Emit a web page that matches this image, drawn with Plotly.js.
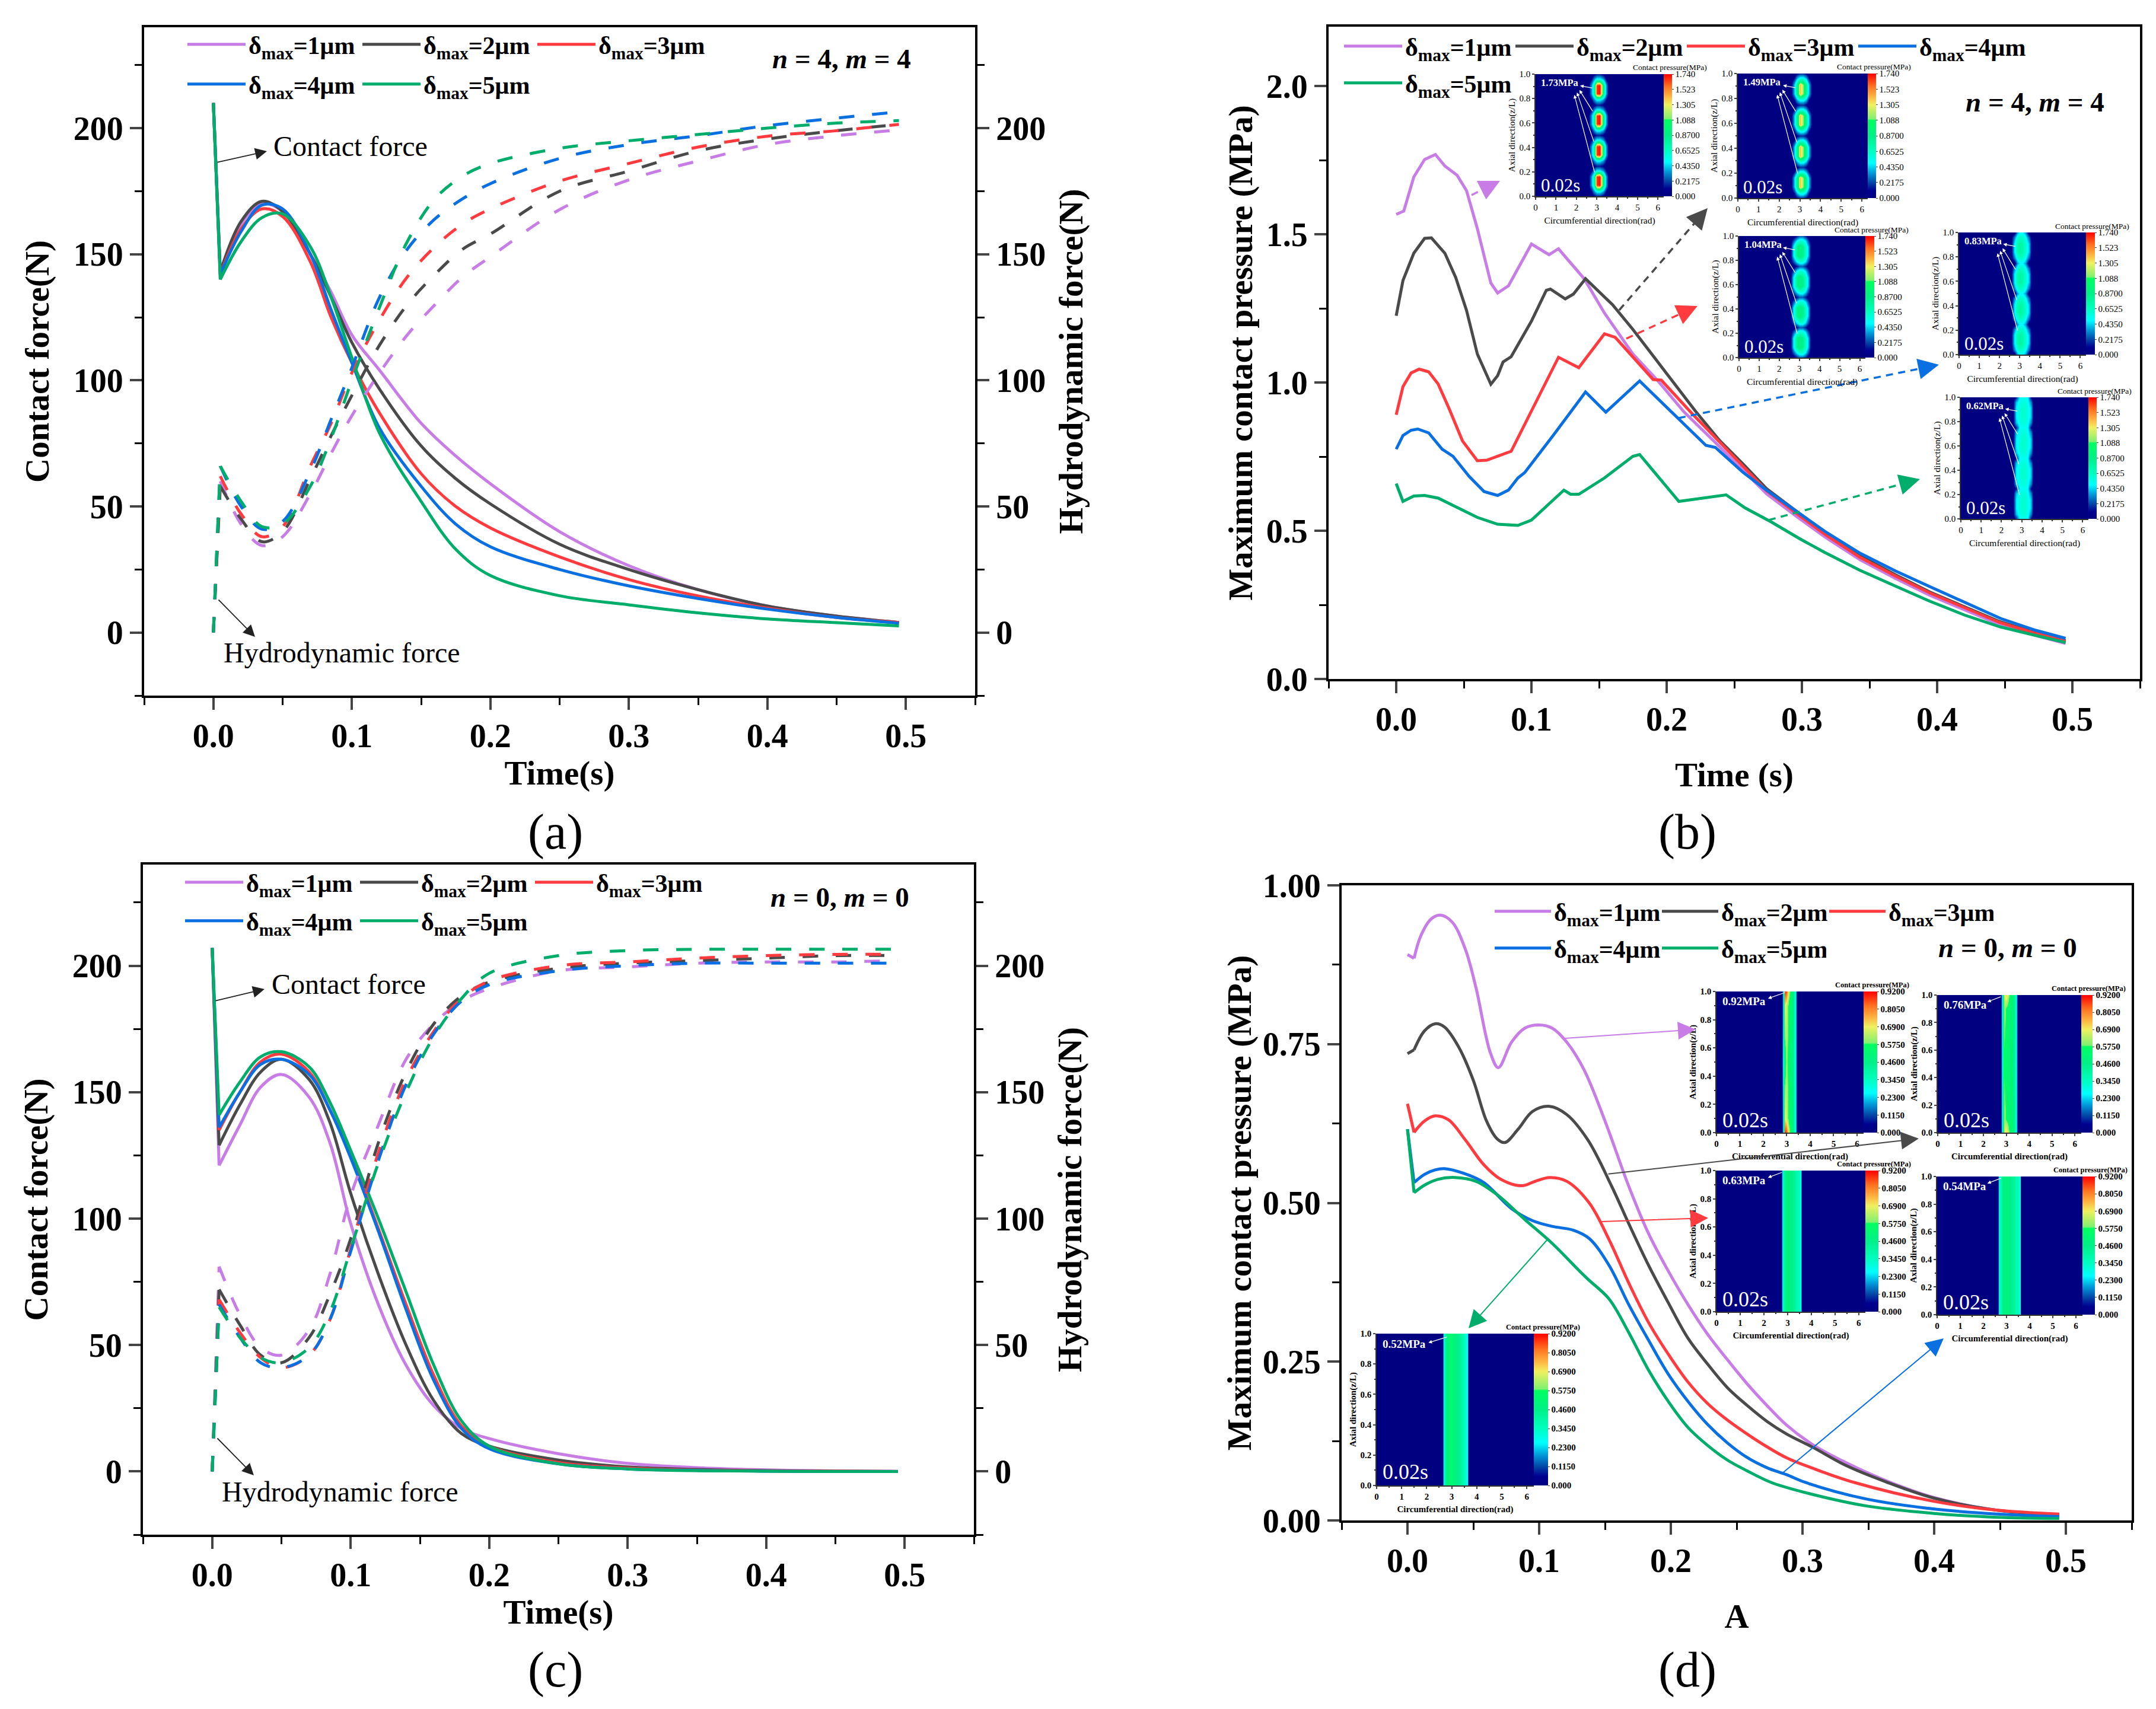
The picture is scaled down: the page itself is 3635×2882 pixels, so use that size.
<!DOCTYPE html>
<html>
<head>
<meta charset="utf-8">
<script src="https://cdn.plot.ly/plotly-3.0.1.min.js"></script>
<style>body { margin: 0; background: #fff; }</style>
</head>
<body>
<div id="chart"></div>
<script>
const W = 3635;
const H = 2882;
const SERIF = "Liberation Serif";

const seriesNames = ["δ<sub>max</sub>=1μm", "δ<sub>max</sub>=2μm", "δ<sub>max</sub>=3μm", "δ<sub>max</sub>=4μm", "δ<sub>max</sub>=5μm"];
const seriesColors = ["#C77CE6", "#4A4A4A", "#FF3B3F", "#0A6FE0", "#00AD6B"];

// (a) n = 4, m = 4
const aContactTime = [0, 0.005, 0.02, 0.035, 0.05, 0.07, 0.085, 0.1, 0.12, 0.15, 0.175, 0.2, 0.25, 0.3, 0.35, 0.4, 0.45, 0.495];
const aContact1 = [210, 140, 162, 170, 167, 150, 135, 118, 104, 83, 70, 59, 40, 26.5, 17, 10.5, 6.5, 4];
const aContact2 = [210, 143, 163, 171, 167, 150, 133, 115, 96.5, 74, 61, 51, 35, 25, 17, 10.5, 6.5, 4];
const aContact3 = [210, 142, 160, 168, 165, 147, 125, 107, 87, 63, 50, 41.5, 30, 21, 14.5, 9.7, 6, 4];
const aContact4 = [210, 142, 159, 169.5, 168, 150, 128, 107, 81, 58, 43, 34, 25, 18.5, 13.5, 9.3, 6, 3.7];
const aContact5 = [210, 140, 155, 164.5, 166, 153, 133, 109, 79, 52, 33, 22.6, 14.6, 11, 7.8, 5.4, 3.9, 2.6];

const hydroTime = [0, 0.005, 0.02, 0.035, 0.05, 0.07, 0.085, 0.1, 0.12, 0.14, 0.16, 0.18, 0.2, 0.25, 0.3, 0.35, 0.4, 0.45, 0.495];
const aHydro1 = [0, 60, 43, 34.5, 38, 55, 71, 86, 103, 118, 130, 141, 149, 167.7, 179.5, 187, 193.5, 197, 199.3];
const aHydro2 = [0, 58, 45, 36, 40, 61, 78, 94, 114, 130, 142, 152, 158, 175, 183, 191, 195.7, 199, 201.5];
const aHydro3 = [0, 62, 47, 38, 42, 66, 83, 103, 124, 141, 153, 162, 168, 179, 186, 192.5, 196.8, 199, 201.5];
const aHydro4 = [0, 66, 50, 41, 44, 64, 84.5, 105, 133, 152, 164, 172, 178, 188, 193.5, 197, 201, 204, 206.5];
const aHydro5 = [0, 66, 52, 42, 43, 58, 77, 100, 129, 155, 172, 181, 186, 192, 195, 197.5, 200, 202, 203];

// (c) n = 0, m = 0, same time grid for both families
const cContact1 = [207, 121, 137, 152, 157, 148, 130, 98, 66, 42, 26, 17, 13, 7, 3.2, 1.5, 0.6, 0.2, 0.1];
const cContact2 = [207, 129, 145, 158, 163, 155, 138, 110, 78, 50, 28, 15, 10, 4.5, 1.8, 0.8, 0.3, 0.1, 0];
const cContact3 = [207, 135, 150, 162, 165, 158, 143, 125, 96, 66, 38, 18, 10, 3.5, 1.3, 0.5, 0.2, 0.1, 0];
const cContact4 = [207, 136, 150, 161, 163, 157, 143, 124, 95, 64, 36, 17, 9, 3, 1, 0.4, 0.1, 0, 0];
const cContact5 = [207, 141, 154, 164, 166, 160, 146, 127, 100, 71, 42, 20, 10, 3, 1, 0.3, 0.1, 0, 0];
const cHydro1 = [0, 81, 62, 49, 46, 56, 78, 109, 137, 163, 177, 186, 191, 198, 199.5, 201, 201.5, 201.5, 202];
const cHydro2 = [0, 72, 58, 46, 43, 53, 70, 92, 130, 158, 177, 188, 193.5, 199, 201, 202, 203, 204, 204];
const cHydro3 = [0, 68, 55, 45, 41, 46, 60, 88, 126, 155, 174, 187, 194, 200, 201.5, 203, 204, 204.5, 204.5];
const cHydro4 = [0, 66, 53, 43, 41, 46, 60, 87, 123, 153, 173, 186, 192.5, 198, 200, 201, 201, 201, 201];
const cHydro5 = [0, 65, 53, 45, 43, 49, 63, 88, 122, 150, 172, 187, 197, 204, 206, 206.5, 206.5, 206.5, 206.5];

// (b) maximum contact pressure, n = 4, m = 4
const bTime1 = [0, 0.0056, 0.013, 0.021, 0.029, 0.036, 0.045, 0.052, 0.06, 0.07, 0.075, 0.083, 0.1, 0.113, 0.12, 0.139, 0.154, 0.175, 0.193, 0.213, 0.239, 0.2565, 0.2738, 0.2964, 0.3173, 0.3431, 0.3693, 0.3947, 0.4206, 0.4465, 0.4727, 0.495];
const bPressure1 = [1.567, 1.578, 1.693, 1.752, 1.769, 1.73, 1.699, 1.647, 1.519, 1.335, 1.302, 1.326, 1.467, 1.431, 1.451, 1.35, 1.234, 1.096, 1.008, 0.9, 0.784, 0.705, 0.625, 0.547, 0.478, 0.402, 0.339, 0.282, 0.232, 0.183, 0.147, 0.12];
const bTime2 = [0, 0.005, 0.013, 0.021, 0.026, 0.036, 0.044, 0.052, 0.06, 0.07, 0.075, 0.079, 0.085, 0.1, 0.111, 0.114, 0.125, 0.131, 0.14, 0.16, 0.175, 0.198, 0.221, 0.239, 0.2565, 0.2738, 0.2964, 0.3173, 0.3431, 0.3693, 0.3947, 0.4206, 0.4465, 0.4727, 0.495];
const bPressure2 = [1.225, 1.344, 1.436, 1.486, 1.488, 1.436, 1.354, 1.243, 1.096, 0.994, 1.023, 1.069, 1.087, 1.207, 1.311, 1.315, 1.282, 1.298, 1.35, 1.262, 1.179, 1.041, 0.905, 0.805, 0.725, 0.642, 0.563, 0.492, 0.415, 0.351, 0.293, 0.243, 0.193, 0.156, 0.129];
const bTime3 = [0, 0.005, 0.011, 0.017, 0.024, 0.031, 0.039, 0.049, 0.06, 0.067, 0.085, 0.103, 0.12, 0.135, 0.154, 0.162, 0.19, 0.196, 0.219, 0.239, 0.2565, 0.2738, 0.2964, 0.3173, 0.3431, 0.3693, 0.3947, 0.4206, 0.4465, 0.4727, 0.495];
const bPressure3 = [0.891, 0.986, 1.032, 1.045, 1.036, 0.995, 0.913, 0.803, 0.736, 0.738, 0.768, 0.931, 1.085, 1.05, 1.164, 1.152, 1.01, 1.008, 0.894, 0.8, 0.717, 0.635, 0.557, 0.487, 0.41, 0.347, 0.29, 0.24, 0.19, 0.154, 0.127];
const bTime4 = [0, 0.005, 0.011, 0.016, 0.024, 0.034, 0.042, 0.054, 0.065, 0.075, 0.083, 0.09, 0.095, 0.116, 0.14, 0.155, 0.18, 0.208, 0.229, 0.236, 0.2565, 0.2738, 0.2964, 0.3173, 0.3431, 0.3693, 0.3953, 0.4212, 0.447, 0.473, 0.495];
const bPressure4 = [0.775, 0.821, 0.839, 0.843, 0.83, 0.775, 0.751, 0.683, 0.632, 0.619, 0.637, 0.678, 0.696, 0.821, 0.968, 0.9, 1.005, 0.88, 0.788, 0.781, 0.697, 0.637, 0.564, 0.497, 0.424, 0.364, 0.31, 0.257, 0.204, 0.164, 0.137];
const bTime5 = [0, 0.005, 0.013, 0.021, 0.031, 0.044, 0.06, 0.075, 0.09, 0.1, 0.124, 0.129, 0.135, 0.154, 0.175, 0.18, 0.209, 0.244, 0.258, 0.2772, 0.298, 0.3168, 0.3427, 0.3688, 0.3947, 0.4206, 0.4465, 0.4727, 0.495];
const bPressure5 = [0.659, 0.599, 0.617, 0.619, 0.61, 0.582, 0.545, 0.522, 0.518, 0.536, 0.637, 0.623, 0.623, 0.678, 0.751, 0.757, 0.599, 0.621, 0.577, 0.53, 0.474, 0.427, 0.367, 0.314, 0.262, 0.215, 0.176, 0.147, 0.123];

// (d) maximum contact pressure, n = 0, m = 0
const dTime1 = [0, 0.005, 0.01, 0.018, 0.025, 0.034, 0.044, 0.052, 0.063, 0.069, 0.079, 0.089, 0.1, 0.11, 0.121, 0.134, 0.15, 0.168, 0.183, 0.198, 0.213, 0.228, 0.243, 0.258, 0.273, 0.288, 0.308, 0.333, 0.363, 0.4, 0.448, 0.495];
const dPressure1 = [0.891, 0.885, 0.92, 0.947, 0.953, 0.942, 0.899, 0.839, 0.736, 0.713, 0.753, 0.775, 0.78, 0.775, 0.753, 0.71, 0.629, 0.5265, 0.452, 0.393, 0.34, 0.293, 0.253, 0.215, 0.181, 0.15, 0.119, 0.091, 0.063, 0.036, 0.016, 0.009];
const dTime2 = [0, 0.005, 0.013, 0.021, 0.028, 0.039, 0.05, 0.06, 0.068, 0.074, 0.084, 0.095, 0.108, 0.121, 0.137, 0.155, 0.168, 0.183, 0.198, 0.213, 0.228, 0.243, 0.258, 0.273, 0.288, 0.308, 0.333, 0.363, 0.4, 0.448, 0.495];
const dPressure2 = [0.735, 0.741, 0.771, 0.782, 0.777, 0.745, 0.693, 0.629, 0.601, 0.595, 0.616, 0.644, 0.652, 0.639, 0.599, 0.5265, 0.4675, 0.402, 0.343, 0.287, 0.246, 0.209, 0.181, 0.156, 0.136, 0.115, 0.0865, 0.061, 0.035, 0.016, 0.009];
const dTime3 = [0, 0.005, 0.013, 0.021, 0.031, 0.044, 0.058, 0.071, 0.087, 0.097, 0.108, 0.121, 0.138, 0.153, 0.168, 0.183, 0.198, 0.213, 0.228, 0.243, 0.258, 0.273, 0.288, 0.308, 0.339, 0.4, 0.448, 0.495];
const dPressure3 = [0.656, 0.611, 0.629, 0.637, 0.631, 0.599, 0.56, 0.537, 0.527, 0.534, 0.54, 0.534, 0.5, 0.4425, 0.374, 0.312, 0.262, 0.218, 0.184, 0.158, 0.136, 0.116, 0.0985, 0.082, 0.06, 0.03, 0.016, 0.01];
const dTime4 = [0, 0.005, 0.013, 0.021, 0.028, 0.042, 0.058, 0.079, 0.095, 0.11, 0.126, 0.138, 0.153, 0.168, 0.183, 0.198, 0.213, 0.228, 0.243, 0.258, 0.273, 0.288, 0.302, 0.348, 0.4, 0.448, 0.495];
const dPressure4 = [0.616, 0.532, 0.545, 0.552, 0.554, 0.547, 0.532, 0.491, 0.472, 0.463, 0.457, 0.444, 0.402, 0.34, 0.284, 0.2305, 0.1875, 0.151, 0.122, 0.099, 0.083, 0.072, 0.06, 0.034, 0.018, 0.01, 0.006];
const dTime5 = [0, 0.005, 0.013, 0.023, 0.036, 0.052, 0.068, 0.089, 0.11, 0.131, 0.138, 0.153, 0.168, 0.183, 0.198, 0.213, 0.228, 0.243, 0.258, 0.276, 0.3, 0.348, 0.4, 0.448, 0.495];
const dPressure5 = [0.616, 0.516, 0.528, 0.537, 0.54, 0.534, 0.513, 0.474, 0.436, 0.392, 0.378, 0.349, 0.296, 0.237, 0.1875, 0.1465, 0.118, 0.095, 0.078, 0.06, 0.045, 0.023, 0.011, 0.005, 0.003];

// pressure maps, MPa. Lobes of (b) repeat four times along the axis
const blobCirc = [0, 2.55, 2.72, 2.88, 3.0, 3.15, 3.3, 3.45, 3.6, 6.28];
const blobAxial = [0, 0.04, 0.09, 0.16, 0.21, 0.25, 0.29, 0.34, 0.41, 0.46, 0.5, 0.54, 0.59, 0.66, 0.71, 0.75, 0.79, 0.84, 0.91, 0.96, 1];
const blobTicks = ["0.000", "0.2175", "0.4350", "0.6525", "0.8700", "1.088", "1.305", "1.523", "1.740"];
const lobe173 = [
  [0, 0, 0, 0.08, 0.15, 0.15, 0.08, 0, 0, 0],
  [0, 0, 0.1, 0.35, 0.5, 0.5, 0.35, 0.1, 0, 0],
  [0, 0, 0.35, 0.75, 1.65, 1.72, 0.9, 0.35, 0, 0],
];
const lobe149 = [
  [0, 0, 0, 0.1, 0.18, 0.18, 0.1, 0, 0, 0],
  [0, 0, 0.12, 0.4, 0.55, 0.55, 0.4, 0.12, 0, 0],
  [0, 0, 0.4, 0.85, 1.4, 1.15, 0.8, 0.38, 0, 0],
];
const lobe104 = [
  [0, 0, 0.03, 0.15, 0.25, 0.25, 0.15, 0.03, 0, 0],
  [0, 0, 0.25, 0.5, 0.6, 0.6, 0.45, 0.2, 0, 0],
  [0, 0, 0.5, 0.85, 0.95, 0.85, 0.65, 0.38, 0, 0],
];
const lobe083 = [
  [0, 0, 0, 0.35, 0.48, 0.48, 0.35, 0, 0, 0],
  [0, 0, 0.3, 0.55, 0.65, 0.62, 0.5, 0.25, 0, 0],
  [0, 0, 0.45, 0.7, 0.78, 0.72, 0.6, 0.4, 0, 0],
];
const lobe062 = [
  [0, 0, 0.15, 0.48, 0.52, 0.52, 0.46, 0.12, 0, 0],
  [0, 0, 0.4, 0.54, 0.58, 0.58, 0.5, 0.32, 0, 0],
  [0, 0, 0.46, 0.56, 0.62, 0.6, 0.54, 0.42, 0, 0],
];

const stripeAxial = [0, 0.1, 0.5, 0.9, 1];
const stripeTicks = ["0.000", "0.1150", "0.2300", "0.3450", "0.4600", "0.5750", "0.6900", "0.8050", "0.9200"];
const stripe092Circ = [0, 2.78, 2.85, 2.92, 3.0, 3.1, 3.25, 3.38, 3.45, 6.28];
const stripe092 = [
  [0, 0, 0.3, 0.88, 0.86, 0.62, 0.5, 0.3, 0, 0],
  [0, 0, 0.3, 0.7, 0.65, 0.55, 0.5, 0.3, 0, 0],
  [0, 0, 0.35, 0.5, 0.62, 0.52, 0.48, 0.3, 0, 0],
  [0, 0, 0.3, 0.7, 0.65, 0.55, 0.5, 0.3, 0, 0],
  [0, 0, 0.3, 0.88, 0.86, 0.62, 0.5, 0.3, 0, 0],
];
const stripe076Circ = [0, 2.75, 2.82, 2.9, 3.0, 3.15, 3.3, 3.42, 3.5, 6.28];
const stripe076 = [
  [0, 0, 0.3, 0.68, 0.72, 0.56, 0.5, 0.32, 0, 0],
  [0, 0, 0.3, 0.62, 0.56, 0.52, 0.5, 0.32, 0, 0],
  [0, 0, 0.3, 0.56, 0.54, 0.52, 0.48, 0.32, 0, 0],
  [0, 0, 0.3, 0.62, 0.56, 0.52, 0.5, 0.32, 0, 0],
  [0, 0, 0.3, 0.68, 0.72, 0.56, 0.5, 0.32, 0, 0],
];
const stripe063Circ = [0, 2.72, 2.8, 2.95, 3.1, 3.3, 3.5, 3.56, 3.6, 6.28];
const stripe063Row = [0, 0, 0.34, 0.5, 0.48, 0.42, 0.34, 0.28, 0, 0];
const stripe054Circ = [0, 2.62, 2.7, 2.9, 3.1, 3.3, 3.5, 3.58, 3.62, 6.28];
const stripe054Row = [0, 0, 0.34, 0.5, 0.47, 0.42, 0.35, 0.28, 0, 0];
const stripe052Circ = [0, 2.62, 2.7, 2.9, 3.1, 3.3, 3.5, 3.62, 3.68, 6.28];
const stripe052Row = [0, 0, 0.38, 0.54, 0.5, 0.44, 0.35, 0.26, 0, 0];

const pressureScale = [
  [0, "#000080"], [0.06, "#000090"], [0.125, "#0048A8"], [0.2, "#0098D8"], [0.28, "#00FFFF"],
  [0.375, "#00FFC0"], [0.5, "#00F088"], [0.625, "#00FF60"], [0.635, "#80F070"], [0.75, "#F0F060"],
  [0.82, "#FFB040"], [0.9, "#FF7020"], [1, "#FF0000"],
];

function lobes(rows) {
  const [valley, shoulder, core] = rows;
  const one = [valley, shoulder, core, core, shoulder];
  return [...one, ...one, ...one, ...one, valley];
}

const domX = (l, r) => [l / W, r / W];
const domY = (t, b) => [1 - b / H, 1 - t / H];
const font = (size, weight = 400, color = "#000") => ({ family: SERIF, size, weight, color });

const traces = [];
const annotations = [];
const shapes = [];
const layout = {
  width: W,
  height: H,
  margin: { l: 0, r: 0, t: 0, b: 0, pad: 0 },
  paper_bgcolor: "#fff",
  plot_bgcolor: "#fff",
  font: { family: SERIF, color: "#000" },
  annotations,
  shapes,
};

function mainXAxis(dom, anchor, title, standoff) {
  return {
    domain: dom,
    anchor,
    range: [-0.05, 0.55],
    dtick: 0.1,
    tick0: 0,
    tickformat: ".1f",
    ticks: "outside",
    ticklen: 20,
    tickwidth: 4,
    linewidth: 4,
    linecolor: "#000",
    showline: true,
    mirror: true,
    showgrid: false,
    zeroline: false,
    tickfont: font(56, 700),
    ticklabelstandoff: -4,
    minor: { dtick: 0.05, ticks: "outside", ticklen: 12, tickwidth: 3, tickcolor: "#000", showgrid: false },
    title: { text: title, font: font(57, 700), standoff },
  };
}

function mainYAxis(dom, anchor, range, dtick, minorDtick, format, title, standoff, extra) {
  return {
    domain: dom,
    anchor,
    range,
    dtick,
    tick0: 0,
    tickformat: format,
    ticks: "outside",
    ticklen: 20,
    tickwidth: 4,
    linewidth: 4,
    linecolor: "#000",
    showline: true,
    showgrid: false,
    zeroline: false,
    tickfont: font(56, 700),
    minor: { dtick: minorDtick, ticks: "outside", ticklen: 12, tickwidth: 3, tickcolor: "#000", showgrid: false },
    title: { text: title, font: font(57, 700), standoff },
    ...extra,
  };
}

function addLine(x, y, i, xa, ya, opts) {
  traces.push({
    type: "scatter",
    mode: "lines",
    x,
    y,
    xaxis: xa,
    yaxis: ya,
    name: seriesNames[i],
    hoverinfo: "skip",
    line: { color: seriesColors[i], width: 5, dash: opts.dash || "solid", shape: opts.shape || "spline", smoothing: 1 },
    showlegend: !!opts.legend,
    legend: opts.legend,
  });
}

// the start of each run is a sharp corner, so the first step stays straight
function addCurve(x, y, i, xa, ya, opts) {
  addLine(x.slice(0, 2), y.slice(0, 2), i, xa, ya, { dash: opts.dash, shape: "linear" });
  addLine(x.slice(1), y.slice(1), i, xa, ya, opts);
}

function addLegend(id, lineStart, rowY, entrywidth, itemwidth, size) {
  layout[id] = {
    orientation: "h",
    x: (lineStart - 5) / W,
    y: 1 - rowY / H,
    xanchor: "left",
    yanchor: "middle",
    bgcolor: "rgba(0,0,0,0)",
    borderwidth: 0,
    itemwidth,
    entrywidth,
    entrywidthmode: "pixels",
    font: font(size, 700),
    itemclick: false,
    itemdoubleclick: false,
  };
}

function note(text, x, y, size, weight, anchor = "left") {
  annotations.push({
    text, xref: "paper", yref: "paper", x: x / W, y: 1 - y / H,
    xanchor: anchor, yanchor: "middle", showarrow: false, font: font(size, weight),
  });
}

function arrow(tail, head, color, width, size) {
  annotations.push({
    text: "", xref: "paper", yref: "paper", x: head[0] / W, y: 1 - head[1] / H,
    ax: tail[0] - head[0], ay: tail[1] - head[1], axref: "pixel", ayref: "pixel",
    showarrow: true, arrowhead: 2, arrowcolor: color, arrowwidth: width, arrowsize: size,
  });
}

function dashedArrow(tail, head, color) {
  const dx = tail[0] - head[0];
  const dy = tail[1] - head[1];
  const len = Math.hypot(dx, dy);
  shapes.push({
    type: "line", xref: "paper", yref: "paper", layer: "above",
    x0: tail[0] / W, y0: 1 - tail[1] / H, x1: (head[0] + dx * 20 / len) / W, y1: 1 - (head[1] + dy * 20 / len) / H,
    line: { color, width: 3.5, dash: "12px,9px" },
  });
  arrow([head[0] + dx * 24 / len, head[1] + dy * 24 / len], head, color, 3.5, 2);
}

// (a) and (c)
layout.xaxis = mainXAxis(domX(243, 1644), "y", "Time(s)", 12);
layout.yaxis = mainYAxis(domY(46, 1173), "x", [-25, 240], 50, 25, "d", "Contact force(N)", 24);
layout.yaxis2 = mainYAxis(domY(46, 1173), "x", [-25, 240], 50, 25, "d", "Hydrodynamic force(N)", 24, { overlaying: "y", side: "right" });
layout.xaxis2 = mainXAxis(domX(241, 1642), "y3", "Time(s)", 12);
layout.yaxis3 = mainYAxis(domY(1458, 2588), "x2", [-25, 240], 50, 25, "d", "Contact force(N)", 24);
layout.yaxis4 = mainYAxis(domY(1458, 2588), "x2", [-25, 240], 50, 25, "d", "Hydrodynamic force(N)", 24, { overlaying: "y3", side: "right" });

const HYDRO_DASH = "26px,30px";

[aContact1, aContact2, aContact3, aContact4, aContact5].forEach((y, i) =>
  addCurve(aContactTime, y, i, "x", "y", { legend: i < 3 ? "legend" : "legend2" }));
[aHydro1, aHydro2, aHydro3, aHydro4, aHydro5].forEach((y, i) =>
  addCurve(hydroTime, y, i, "x", "y2", { dash: HYDRO_DASH }));
[cContact1, cContact2, cContact3, cContact4, cContact5].forEach((y, i) =>
  addCurve(hydroTime, y, i, "x2", "y3", { legend: i < 3 ? "legend5" : "legend6" }));
[cHydro1, cHydro2, cHydro3, cHydro4, cHydro5].forEach((y, i) =>
  addCurve(hydroTime, y, i, "x2", "y4", { dash: HYDRO_DASH }));

// (b) and (d)
layout.xaxis3 = mainXAxis(domX(2240, 3608), "y5", "Time (s)", 44);
layout.yaxis5 = mainYAxis(domY(45, 1145), "x3", [0, 2.2], 0.5, 0.25, ".1f", "Maximum contact pressure (MPa)", 6, { mirror: true });
layout.xaxis4 = mainXAxis(domX(2262, 3594), "y6", "A", 44);
layout.yaxis6 = mainYAxis(domY(1493, 2564), "x4", [0, 1], 0.25, 0.125, ".2f", "Maximum contact pressure (MPa)", 2, { mirror: true });

[[bTime1, bPressure1], [bTime2, bPressure2], [bTime3, bPressure3], [bTime4, bPressure4], [bTime5, bPressure5]].forEach(([x, y], i) =>
  addLine(x, y, i, "x3", "y5", { shape: "linear", legend: i < 4 ? "legend3" : "legend4" }));
[[dTime1, dPressure1], [dTime2, dPressure2], [dTime3, dPressure3], [dTime4, dPressure4], [dTime5, dPressure5]].forEach(([x, y], i) =>
  addCurve(x, y, i, "x4", "y6", { legend: i < 3 ? "legend7" : "legend8" }));

addLegend("legend", 316, 75, 182, 98, 42);
addLegend("legend2", 316, 142, 182, 98, 42);
addLegend("legend5", 312, 1488, 182, 98, 42);
addLegend("legend6", 312, 1553, 182, 98, 42);
addLegend("legend3", 2266, 78, 176, 98, 42);
addLegend("legend4", 2266, 140, 176, 98, 42);
addLegend("legend7", 2520, 1537, 172, 95, 42);
addLegend("legend8", 2520, 1599, 172, 95, 42);

// pressure map insets
const blobArrows = [[2.82, 0.885, 2.18, 0.905], [2.82, 0.69, 2.15, 0.87], [2.87, 0.44, 2.03, 0.85], [2.9, 0.19, 1.9, 0.83]];
const insetList = [
  { box: [2589, 2805, 125, 331], cb: 2819, x: blobCirc, y: blobAxial, z: lobes(lobe173), zmax: 1.74, ticks: blobTicks, peak: "1.73MPa", arrows: blobArrows, bold: false },
  { box: [2930, 3149, 124, 334], cb: 3163, x: blobCirc, y: blobAxial, z: lobes(lobe149), zmax: 1.74, ticks: blobTicks, peak: "1.49MPa", arrows: blobArrows, bold: false },
  { box: [2932, 3145, 398, 603], cb: 3160, x: blobCirc, y: blobAxial, z: lobes(lobe104), zmax: 1.74, ticks: blobTicks, peak: "1.04MPa", arrows: blobArrows, bold: false },
  { box: [3303, 3517, 392, 598], cb: 3532, x: blobCirc, y: blobAxial, z: lobes(lobe083), zmax: 1.74, ticks: blobTicks, peak: "0.83MPa", arrows: blobArrows, bold: false },
  { box: [3306, 3521, 670, 875], cb: 3535, x: blobCirc, y: blobAxial, z: lobes(lobe062), zmax: 1.74, ticks: blobTicks, peak: "0.62MPa", arrows: blobArrows, bold: false },
  { box: [2894, 3142, 1672, 1910], cb: 3165, x: stripe092Circ, y: stripeAxial, z: stripe092, zmax: 0.92, ticks: stripeTicks, peak: "0.92MPa", arrows: [[2.96, 0.995, 2.2, 0.95]], bold: true },
  { box: [3267, 3509, 1678, 1910], cb: 3528, x: stripe076Circ, y: stripeAxial, z: stripe076, zmax: 0.92, ticks: stripeTicks, peak: "0.76MPa", arrows: [[2.8, 0.99, 2.17, 0.95]], bold: true },
  { box: [2894, 3145, 1974, 2212], cb: 3167, x: stripe063Circ, y: [0, 1], z: [stripe063Row, stripe063Row], zmax: 0.92, ticks: stripeTicks, peak: "0.63MPa", arrows: [[2.8, 0.99, 2.17, 0.95]], bold: true },
  { box: [3266, 3511, 1984, 2217], cb: 3532, x: stripe054Circ, y: [0, 1], z: [stripe054Row, stripe054Row], zmax: 0.92, ticks: stripeTicks, peak: "0.54MPa", arrows: [[2.8, 0.99, 2.17, 0.95]], bold: true },
  { box: [2321, 2586, 2249, 2505], cb: 2610, x: stripe052Circ, y: [0, 1], z: [stripe052Row, stripe052Row], zmax: 0.92, ticks: stripeTicks, peak: "0.52MPa", arrows: [[2.85, 0.98, 2.07, 0.94]], bold: true },
];

insetList.forEach((inset, k) => {
  const [l, r, t, b] = inset.box;
  const xa = `x${k + 5}`;
  const ya = `y${k + 7}`;
  const weight = inset.bold ? 700 : 400;
  const axisBase = {
    ticks: "outside", ticklen: 4, tickwidth: 1.5, linewidth: 1.5, linecolor: "#333", showline: true,
    showgrid: false, zeroline: false, tickfont: font(15, weight),
  };
  layout[`xaxis${k + 5}`] = {
    ...axisBase, domain: domX(l, r), anchor: ya, range: [0, 6.28], dtick: 1, tick0: 0,
    minor: { dtick: 0.5, ticks: "outside", ticklen: 2, tickcolor: "#333" },
    title: { text: "Circumferential direction(rad)", font: font(inset.bold ? 15 : 15.5, weight), standoff: 9 },
  };
  layout[`yaxis${k + 7}`] = {
    ...axisBase, domain: domY(t, b), anchor: xa, range: [0, 1], dtick: 0.2, tick0: 0, tickformat: ".1f",
    minor: { dtick: 0.1, ticks: "outside", ticklen: 2, tickcolor: "#333" },
    title: { text: "Axial direction(z/L)", font: font(inset.bold ? 15 : 15.5, weight), standoff: 3 },
  };
  traces.push({
    type: "heatmap",
    x: inset.x,
    y: inset.y,
    z: inset.z,
    xaxis: xa,
    yaxis: ya,
    zmin: 0,
    zmax: inset.zmax,
    zsmooth: "best",
    colorscale: pressureScale,
    hoverinfo: "skip",
    colorbar: {
      x: r / W, xanchor: "left", xpad: 0, y: 1 - b / H, yanchor: "bottom", ypad: 0,
      len: b - t, lenmode: "pixels", thickness: inset.cb - r, thicknessmode: "pixels",
      tickvals: inset.ticks.map((_, i) => inset.zmax * i / 8),
      ticktext: inset.ticks,
      ticks: "outside", ticklen: 3, tickwidth: 1, outlinewidth: 0,
      tickfont: font(15, weight),
    },
  });
  const sizeK = inset.bold ? 1 : 0.87;
  annotations.push({
    text: inset.peak, xref: xa, yref: ya, x: 0.2, y: 0.93, xanchor: "left", yanchor: "middle",
    showarrow: false, font: font(19 * sizeK, 700, "#fff"),
  });
  annotations.push({
    text: "0.02s", xref: xa, yref: ya, x: 0.2, y: 0.09, xanchor: "left", yanchor: "middle",
    showarrow: false, font: font(inset.bold ? 36 : 31, 400, "#fff"),
  });
  inset.arrows.forEach(([x0, y0, x1, y1]) => {
    annotations.push({
      text: "", xref: xa, yref: ya, axref: xa, ayref: ya, x: x1, y: y1, ax: x0, ay: y0,
      showarrow: true, arrowhead: 2, arrowcolor: "#fff", arrowwidth: 1.2, arrowsize: 1,
    });
  });
  note("Contact pressure(MPa)", (r + inset.cb) / 2 + 3, t - 11, inset.bold ? 12.5 : 13.5, weight, "center");
});

// callouts and captions
note("Contact force", 459, 246, 48, 400);
note("Hydrodynamic force", 375, 1100, 48, 400);
note("Contact force", 456, 1659, 48, 400);
note("Hydrodynamic force", 372, 2515, 48, 400);
arrow([365, 274], [450, 255], "#222", 1.8, 2.2);
arrow([367, 1010], [430, 1074], "#222", 1.8, 2.2);
arrow([362, 1688], [446, 1668], "#222", 1.8, 2.2);
arrow([365, 2424], [428, 2488], "#222", 1.8, 2.2);

note("<i>n</i> = 4, <i>m</i> = 4", 1300, 99, 47, 700);
note("<i>n</i> = 0, <i>m</i> = 0", 1297, 1513, 47, 700);
note("<i>n</i> = 4, <i>m</i> = 4", 3312, 172, 47, 700);
note("<i>n</i> = 0, <i>m</i> = 0", 3266, 1598, 47, 700);

note("(a)", 936, 1403, 84, 400, "center");
note("(b)", 2845, 1403, 84, 400, "center");
note("(c)", 936, 2816, 84, 400, "center");
note("(d)", 2845, 2816, 84, 400, "center");

dashedArrow([2481, 329], [2529, 305], seriesColors[0]);
dashedArrow([2730, 523], [2879, 351], seriesColors[1]);
dashedArrow([2742, 571], [2862, 516], seriesColors[2]);
dashedArrow([2830, 705], [3269, 615], seriesColors[3]);
dashedArrow([2982, 877], [3237, 808], seriesColors[4]);

arrow([2637, 1751], [2859, 1736], seriesColors[0], 2, 3);
arrow([2710, 1980], [3235, 1920], seriesColors[1], 2, 3);
arrow([2699, 2060], [2880, 2054], seriesColors[2], 2, 3);
arrow([3003, 2486], [3277, 2257], seriesColors[3], 2, 3);
arrow([2611, 2088], [2476, 2240], seriesColors[4], 2, 3);

Plotly.newPlot("chart", traces, layout, { displayModeBar: false, responsive: false });
</script>
</body>
</html>
